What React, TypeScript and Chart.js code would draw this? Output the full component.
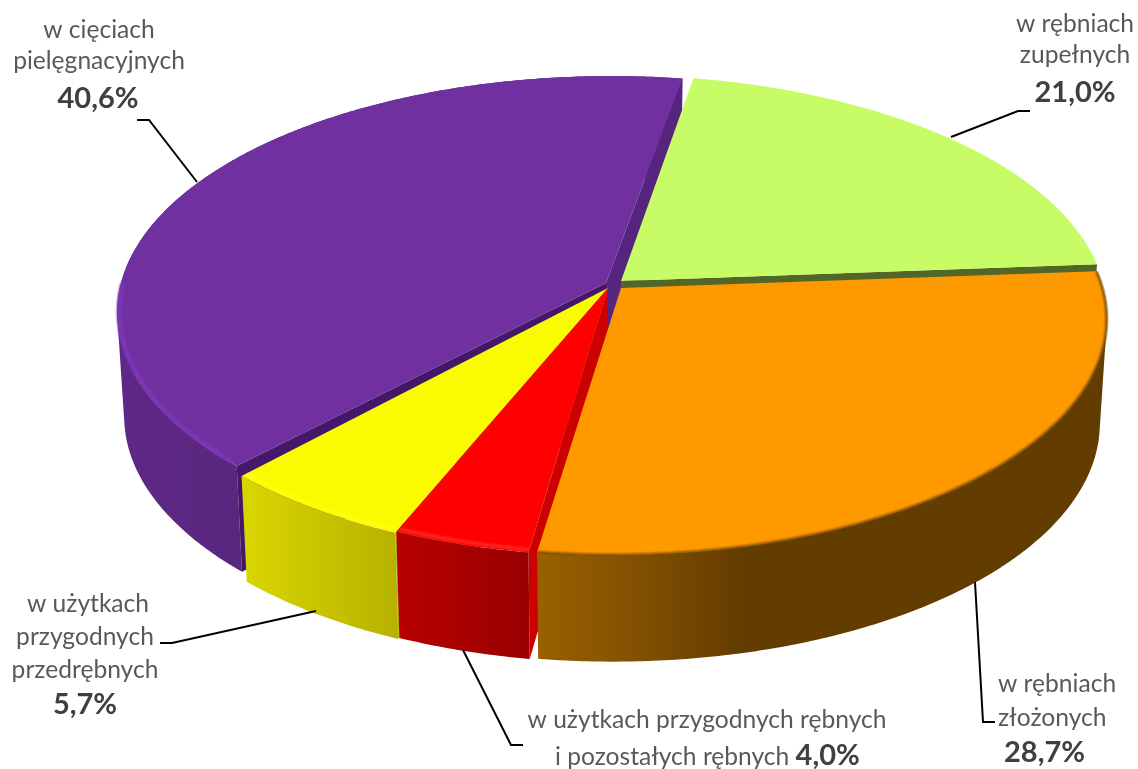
import React, { useEffect, useRef } from "react";
import { Chart, registerables } from "chart.js";

Chart.register(...registerables);

const categories = [
  "w rębniach zupełnych",
  "w rębniach złożonych",
  "w użytkach przygodnych rębnych i pozostałych rębnych",
  "w użytkach przygodnych przedrębnych",
  "w cięciach pielęgnacyjnych",
];
const shares = [21.0, 28.7, 4.0, 5.7, 40.6];
const topColors = ["#C8FC66", "#FF9900", "#FF0000", "#FAFA00", "#7030A0"];

const GRAY = "#595959";
const DARK = "#404040";
const FONT = "Lato, Carlito, sans-serif";
const TEXT_SIZE = 24.6;

// perspective model of the disc
const CX = 611, CY = 285, RX = 490, SY = 232.4, K = 0.123, DEPTH = 104;

// explosion of each slice: apex offset, rim offset, small angular gaps (degrees)
const shifts = [
  { ax: 10, ay: -4, rx: 2, ry: -3, t0: 0.6, t1: 0 },
  { ax: 10, ay: 3, rx: 2, ry: 5, t0: -0.3, t1: -1.1 },
  { ax: -3, ay: 3, rx: 4, ry: 6, t0: 0, t1: 0 },
  { ax: -3, ay: 3, rx: 3, ry: 7, t0: 0, t1: 0 },
  { ax: -5, ay: -2, rx: 0, ry: -2, t0: 0.3, t1: -0.6 },
];

type P = { x: number; y: number };

function proj(a: number, r: number, h: number, s: any): P {
  const u = Math.cos(a) * r;
  const v = Math.sin(a) * r;
  const w = 1 - K * v;
  const dx = s.ax * (1 - r) + s.rx * r;
  const dy = s.ay * (1 - r) + s.ry * r;
  return {
    x: CX + dx + ((RX * u) / w) * (1 - 0.014 * h),
    y: CY + dy + ((SY * v) / w) * (1 + 0.01 * h) + DEPTH * h,
  };
}

function arcPts(a0: number, a1: number, r: number, h: number, s: any) {
  const n = Math.max(2, Math.ceil(Math.abs(a1 - a0) / 0.01));
  const out: P[] = [];
  for (let i = 0; i <= n; i++) out.push(proj(a0 + ((a1 - a0) * i) / n, r, h, s));
  return out;
}

function poly(ctx: CanvasRenderingContext2D, pts: P[], fill: any) {
  ctx.beginPath();
  pts.forEach((p, i) => (i ? ctx.lineTo(p.x, p.y) : ctx.moveTo(p.x, p.y)));
  ctx.closePath();
  ctx.fillStyle = fill;
  ctx.fill();
}

function hGrad(ctx: CanvasRenderingContext2D, x0: number, x1: number, stops: [number, string][]) {
  const g = ctx.createLinearGradient(x0, 0, x1, 0);
  stops.forEach(([o, c]) => g.addColorStop(o, c));
  return g;
}

function drawTop(ctx: CanvasRenderingContext2D, a0: number, a1: number, s: any, color: string) {
  poly(ctx, [proj(0, 0, 0, s), ...arcPts(a0, a1, 1, 0, s)], color);
}
function drawWall(ctx: CanvasRenderingContext2D, a: number, s: any, color: any) {
  poly(ctx, [proj(a, 0, 0, s), proj(a, 1, 0, s), proj(a, 1, 1, s), proj(a, 0, 1, s)], color);
}
// side of the disc: union of quads between rim at top and rim at bottom
function drawSide(ctx: CanvasRenderingContext2D, a0: number, a1: number, s: any, fill: any) {
  const t = arcPts(a0, a1, 1, 0, s);
  const b = arcPts(a0, a1, 1, 1, s);
  ctx.beginPath();
  for (let i = 0; i < t.length - 1; i++) {
    let q = [t[i], t[i + 1], b[i + 1], b[i]];
    let area = 0;
    q.forEach((p, k) => {
      const n = q[(k + 1) % 4];
      area += p.x * n.y - n.x * p.y;
    });
    if (area < 0) q = q.reverse();
    q.forEach((p, k) => (k ? ctx.lineTo(p.x, p.y) : ctx.moveTo(p.x, p.y)));
    ctx.closePath();
  }
  ctx.fillStyle = fill;
  ctx.fill("nonzero");
}
function drawRim(
  ctx: CanvasRenderingContext2D, a0: number, a1: number, topA0: number, topA1: number,
  s: any, color: string, width: number, blur: number, r: number,
) {
  ctx.save();
  ctx.beginPath();
  [proj(0, 0, 0, s), ...arcPts(topA0, topA1, 1.004, 0, s)].forEach((p, i) =>
    i ? ctx.lineTo(p.x, p.y) : ctx.moveTo(p.x, p.y));
  ctx.closePath();
  ctx.clip();
  ctx.filter = `blur(${blur}px)`;
  ctx.strokeStyle = color;
  ctx.lineWidth = width;
  ctx.beginPath();
  arcPts(a0, a1, r, 0, s).forEach((p, i) => (i ? ctx.lineTo(p.x, p.y) : ctx.moveTo(p.x, p.y)));
  ctx.stroke();
  ctx.restore();
}

function centered(ctx: CanvasRenderingContext2D, t: string, x: number, y: number, bold = false, size = TEXT_SIZE) {
  ctx.font = `${bold ? "bold " : ""}${size}px ${FONT}`;
  ctx.fillStyle = bold ? DARK : GRAY;
  ctx.textAlign = "center";
  ctx.textBaseline = "alphabetic";
  ctx.fillText(t, x, y);
}
function left(ctx: CanvasRenderingContext2D, t: string, x: number, y: number, bold = false, size = TEXT_SIZE) {
  ctx.font = `${bold ? "bold " : ""}${size}px ${FONT}`;
  ctx.fillStyle = bold ? DARK : GRAY;
  ctx.textAlign = "left";
  ctx.textBaseline = "alphabetic";
  ctx.fillText(t, x, y);
  return ctx.measureText(t).width;
}
function leader(ctx: CanvasRenderingContext2D, pts: number[][]) {
  ctx.beginPath();
  pts.forEach(([x, y], i) => (i ? ctx.lineTo(x, y) : ctx.moveTo(x, y)));
  ctx.strokeStyle = "#000000";
  ctx.lineWidth = 2;
  ctx.stroke();
}
const pct = (v: number) => v.toFixed(1).replace(".", ",") + "%";

const pie3d = {
  id: "pie3d",
  beforeDatasetsDraw(chart: any) {
    const ctx: CanvasRenderingContext2D = chart.ctx;
    const arcs = chart.getDatasetMeta(0).data;
    const deg = Math.PI / 180;
    const range = (i: number) => [
      arcs[i].startAngle + shifts[i].t0 * deg,
      arcs[i].endAngle + shifts[i].t1 * deg,
    ];
    const col = (i: number) => arcs[i].options.backgroundColor;
    ctx.save();

    // purple
    {
      const [a0, a1] = range(4);
      const s = shifts[4];
      drawSide(ctx, a0, a1, s, hGrad(ctx, 118, 250, [[0, "#5E2986"], [1, "#58267E"]]));
      drawWall(ctx, a1, s, "#56267F");
      drawWall(ctx, a0, s, "#43186A");
      drawTop(ctx, a0, a1, s, col(4));
      drawRim(ctx, 180 * deg, a0 + 0.02, a0, a1, s, "#7C36B4", 5, 1.2, 0.996);
    }
    // green
    {
      const [a0, a1] = range(0);
      const s = shifts[0];
      drawWall(ctx, a1, s, "#526628");
      drawTop(ctx, a0, a1, s, col(0));
    }
    // yellow
    {
      const [a0, a1] = range(3);
      const s = shifts[3];
      drawWall(ctx, a0, s, "#B8B800");
      const l = proj(a1, 1, 0, s).x, r = proj(a0, 1, 0, s).x;
      drawSide(ctx, a0, a1, s, hGrad(ctx, l, r, [[0, "#DAD600"], [0.5, "#C8C400"], [1, "#B7B200"]]));
      drawTop(ctx, a0, a1, s, col(3));
      drawRim(ctx, a0, a1, a0, a1, s, "#FFFF10", 3, 1, 0.99);
    }
    // red
    {
      const [a0, a1] = range(2);
      const s = shifts[2];
      drawWall(ctx, a0, s, "#CC0000");
      const l = proj(a1, 1, 0, s).x, r = proj(a0, 1, 0, s).x;
      drawSide(ctx, a0, a1, s, hGrad(ctx, l, r, [[0, "#B80000"], [1, "#990000"]]));
      drawTop(ctx, a0, a1, s, col(2));
      drawRim(ctx, a0, a1, a0, a1, s, "#FF2A2A", 3, 1, 0.99);
    }
    // orange
    {
      const [a0, a1] = range(1);
      const s = shifts[1];
      const l = proj(a1, 1, 0, s).x;
      drawSide(ctx, a0, a1, s, hGrad(ctx, l, 1107, [[0, "#9A6000"], [0.2, "#7E4E00"], [0.36, "#643C00"], [1, "#633C00"]]));
      drawTop(ctx, a0, a1, s, col(1));
      drawRim(ctx, a0, a1, a0, a1, s, "#7A4A00", 2.5, 1.2, 1.0);
    }
    ctx.restore();

    // leader lines
    leader(ctx, [[137, 120], [149, 120], [197, 182]]);
    leader(ctx, [[1030, 111], [1018, 111], [951, 137]]);
    leader(ctx, [[975, 582], [983, 722], [995, 722]]);
    leader(ctx, [[463, 650], [511, 745], [523, 745]]);
    leader(ctx, [[316, 611], [172, 643], [160, 643]]);

    // labels
    centered(ctx, "w cięciach", 99, 38);
    centered(ctx, "pielęgnacyjnych", 99, 69);
    centered(ctx, pct(shares[4]), 98, 108, true, 29);

    centered(ctx, "w rębniach", 1075, 32);
    centered(ctx, "zupełnych", 1075, 63);
    centered(ctx, pct(shares[0]), 1075, 102, true, 29);

    centered(ctx, "w użytkach", 88, 612);
    centered(ctx, "przygodnych", 85, 645);
    centered(ctx, "przedrębnych", 85, 678);
    centered(ctx, pct(shares[3]), 85, 714, true, 29);

    centered(ctx, "w użytkach przygodnych rębnych", 707, 728);
    const w = left(ctx, "i pozostałych rębnych ", 555, 765);
    left(ctx, pct(shares[2]), 555 + w, 765, true, 29);

    left(ctx, "w rębniach", 998, 692);
    left(ctx, "złożonych", 998, 726);
    left(ctx, pct(shares[1]), 1004, 762, true, 29);

    return false;
  },
};

export default function App() {
  const ref = useRef<HTMLCanvasElement>(null);
  useEffect(() => {
    document.body.style.margin = "0";
    const chart = new Chart(ref.current!, {
      type: "pie",
      data: {
        labels: categories,
        datasets: [{ data: shares, backgroundColor: topColors, borderWidth: 0 }],
      },
      options: {
        responsive: false,
        animation: false,
        rotation: 10,
        plugins: { legend: { display: false }, tooltip: { enabled: false } },
      },
      plugins: [pie3d],
    } as any);
    return () => chart.destroy();
  }, []);
  return <canvas ref={ref} width={1138} height={769} style={{ display: "block" }} />;
}
